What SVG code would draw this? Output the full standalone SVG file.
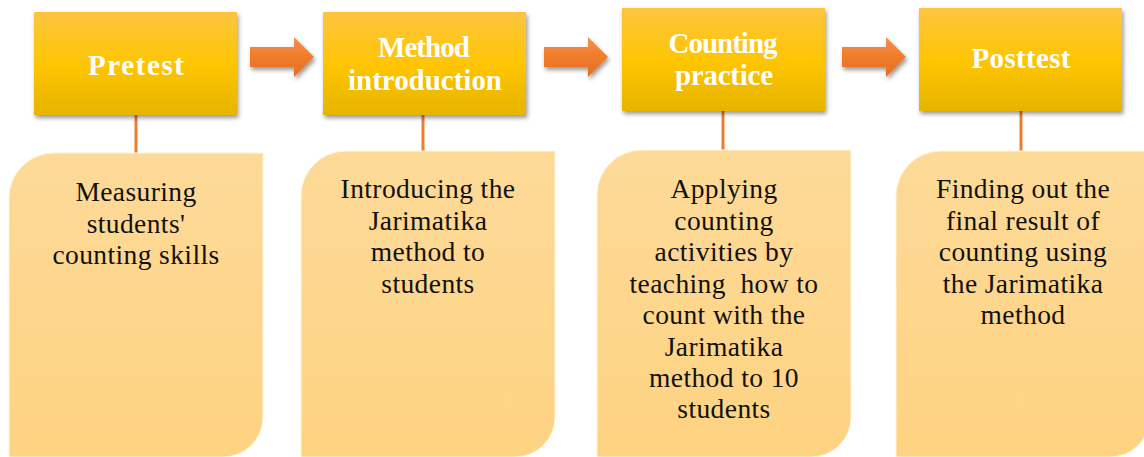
<svg xmlns="http://www.w3.org/2000/svg" width="1144" height="457" viewBox="0 0 1144 457">
<style>
.title{font-family:"Liberation Serif","Times New Roman",serif;font-weight:bold;font-size:29px;fill:#ffffff;text-anchor:middle}
.body{font-family:"Liberation Serif","Times New Roman",serif;font-size:27.5px;letter-spacing:0.4px;fill:#111111;text-anchor:middle;white-space:pre}
.head{fill:url(#gHead);filter:url(#shadow)}
.card{fill:url(#gCard);stroke:#fff3dc;stroke-width:1}
.arrow{fill:url(#gArrow);filter:url(#shadow)}
.link{stroke:#ED7D31;stroke-width:3;fill:none}
</style>
<defs>
<linearGradient id="gHead" x1="0" y1="0" x2="0" y2="1">
<stop offset="0" stop-color="#FDC53F"/>
<stop offset="0.5" stop-color="#FFC505"/>
<stop offset="1" stop-color="#E6B500"/>
</linearGradient>
<linearGradient id="gArrow" x1="0" y1="0" x2="0" y2="1">
<stop offset="0" stop-color="#F4924D"/>
<stop offset="0.5" stop-color="#F07B2B"/>
<stop offset="1" stop-color="#E56E25"/>
</linearGradient>
<linearGradient id="gCard" x1="0" y1="0" x2="0" y2="1">
<stop offset="0" stop-color="#FDDA99"/>
<stop offset="1" stop-color="#FED381"/>
</linearGradient>
<filter id="shadow" x="-20%" y="-20%" width="140%" height="150%">
<feDropShadow dx="1.5" dy="3" stdDeviation="2" flood-color="#000" flood-opacity="0.4"/>
</filter>
</defs>
<rect width="1144" height="457" fill="#ffffff"/>

<g id="connectors">
<line class="link" x1="136" y1="115" x2="136" y2="154"/>
<line class="link" x1="423" y1="115" x2="423" y2="152"/>
<line class="link" x1="723" y1="111" x2="723" y2="151"/>
<line class="link" x1="1021" y1="111" x2="1021" y2="152"/>
<polygon class="arrow" points="250,47 294,47 294,37 314,57 294,77 294,67 250,67"/>
<polygon class="arrow" points="544,47 588,47 588,37 608,57 588,77 588,67 544,67"/>
<polygon class="arrow" points="842,47 886,47 886,37 906,57 886,77 886,67 842,67"/>
</g>

<g id="pretest">
<rect class="head" x="34" y="12" width="203" height="103"/>
<text class="title" x="136" y="75" textLength="96">Pretest</text>
</g>
<g id="method-introduction">
<rect class="head" x="323" y="12" width="203" height="103"/>
<text class="title" x="424" y="57" textLength="92">Method</text>
<text class="title" x="425" y="90" textLength="154">introduction</text>
</g>
<g id="counting-practice">
<rect class="head" x="622" y="8" width="203" height="103"/>
<text class="title" x="723" y="53" textLength="109">Counting</text>
<text class="title" x="724" y="85" textLength="98">practice</text>
</g>
<g id="posttest">
<rect class="head" x="919" y="8" width="203" height="103"/>
<text class="title" x="1021" y="68" textLength="99">Posttest</text>
</g>

<g id="card-pretest">
<path class="card" d="M9,457 V198 A45,45 0 0 1 54,153 H263 V417 A40,40 0 0 1 223,457 Z"/>
<text class="body" x="136" y="201">Measuring</text>
<text class="body" x="136" y="232.5">students'</text>
<text class="body" x="136" y="264">counting skills</text>
</g>
<g id="card-method-introduction">
<path class="card" d="M301,457 V196 A45,45 0 0 1 346,151 H555 V417 A40,40 0 0 1 515,457 Z"/>
<text class="body" x="428" y="198">Introducing the</text>
<text class="body" x="428" y="229.5">Jarimatika</text>
<text class="body" x="428" y="261">method to</text>
<text class="body" x="428" y="292.5">students</text>
</g>
<g id="card-counting-practice">
<path class="card" d="M597,457 V195 A45,45 0 0 1 642,150 H851 V417 A40,40 0 0 1 811,457 Z"/>
<text class="body" x="724" y="198">Applying</text>
<text class="body" x="724" y="229.5">counting</text>
<text class="body" x="724" y="261">activities by</text>
<text class="body" x="724" y="292.5">teaching  how to</text>
<text class="body" x="724" y="324">count with the</text>
<text class="body" x="724" y="355.5">Jarimatika</text>
<text class="body" x="724" y="387">method to 10</text>
<text class="body" x="724" y="418">students</text>
</g>
<g id="card-posttest">
<path class="card" d="M896,457 V196 A45,45 0 0 1 941,151 H1150 V417 A40,40 0 0 1 1110,457 Z"/>
<text class="body" x="1023" y="198">Finding out the</text>
<text class="body" x="1023" y="229.5">final result of</text>
<text class="body" x="1023" y="261">counting using</text>
<text class="body" x="1023" y="292.5">the Jarimatika</text>
<text class="body" x="1023" y="324">method</text>
</g>
</svg>
